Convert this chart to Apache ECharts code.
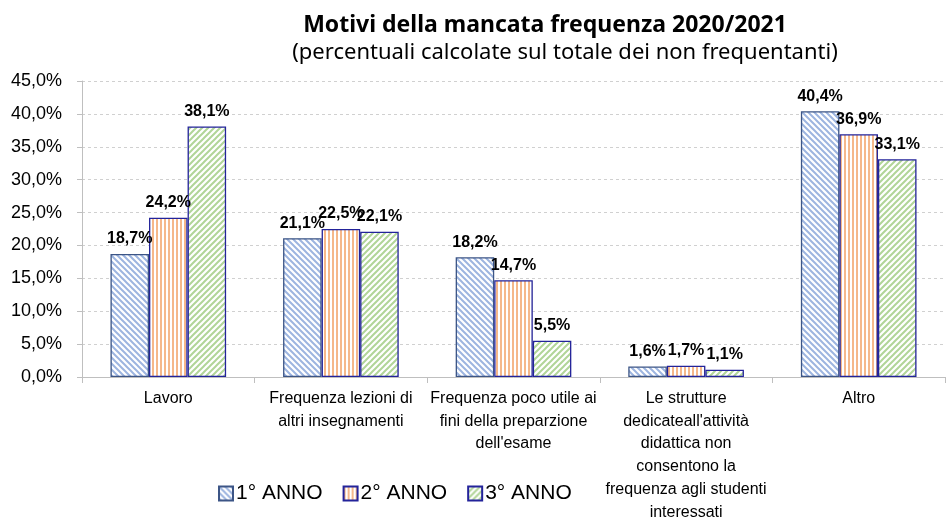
<!DOCTYPE html>
<html>
<head>
<meta charset="utf-8">
<script src="https://cdn.jsdelivr.net/npm/echarts@6/dist/echarts.min.js"></script>
<style>
  html, body { margin: 0; padding: 0; background: #fff; }
  #chart { width: 946px; height: 518px; }
</style>
</head>
<body>
<div id="chart"></div>
<script>
// dati
const categorie = [
    'Lavoro',
    'Frequenza lezioni di\naltri insegnamenti',
    'Frequenza poco utile ai\nfini della preparzione\ndell\'esame',
    'Le strutture\ndedicateall\'attività\ndidattica non\nconsentono la\nfrequenza agli studenti\ninteressati',
    'Altro'
];
const anno1 = [18.7, 21.1, 18.2, 1.6, 40.4];
const anno2 = [24.2, 22.5, 14.7, 1.7, 36.9];
const anno3 = [38.1, 22.1, 5.5, 1.1, 33.1];
const nomiSerie = ['1° ANNO', '2° ANNO', '3° ANNO'];

const FONT = 'Liberation Sans';

// pattern a righe (tipo Excel)
function pattern(tipo, colore) {
    const c = document.createElement('canvas');
    const s = tipo === 'v' ? 4 : 6;
    c.width = s; c.height = s;
    const ctx = c.getContext('2d');
    ctx.fillStyle = '#fff';
    ctx.fillRect(0, 0, s, s);
    ctx.strokeStyle = colore;
    ctx.fillStyle = colore;
    if (tipo === 'v') {
        ctx.fillRect(0, 0, 2, s);
    } else {
        ctx.lineWidth = 2;
        ctx.beginPath();
        if (tipo === 'bs') { // "\"
            ctx.moveTo(-1, -1); ctx.lineTo(s + 1, s + 1);
            ctx.moveTo(-1, s - 1); ctx.lineTo(1, s + 1);
            ctx.moveTo(s - 1, -1); ctx.lineTo(s + 1, 1);
        } else { // "/"
            ctx.moveTo(-1, s + 1); ctx.lineTo(s + 1, -1);
            ctx.moveTo(-1, 1); ctx.lineTo(1, -1);
            ctx.moveTo(s - 1, s + 1); ctx.lineTo(s + 1, s - 1);
        }
        ctx.stroke();
    }
    return { image: c, repeat: 'repeat' };
}

const stili = [
    { color: pattern('bs', '#9DB5E0'), borderColor: '#3C5586' },
    { color: pattern('v', '#F5B88A'), borderColor: '#23239A' },
    { color: pattern('fs', '#B1D598'), borderColor: '#23239A' }
];

const fmt = v => v.toFixed(1).replace('.', ',') + '%';

const chart = echarts.init(document.getElementById('chart'));
chart.setOption({
    animation: false,
    title: [
        {
            text: 'Motivi della mancata frequenza 2020/2021',
            left: 540, top: 9, textAlign: 'center',
            textStyle: { fontFamily: 'Noto Sans', fontSize: 23, fontWeight: 'bold', color: '#000' }
        },
        {
            text: '(percentuali calcolate sul totale dei non frequentanti)',
            left: 560, top: 37, textAlign: 'center',
            textStyle: { fontFamily: 'Noto Sans', fontSize: 22, fontWeight: 'normal', color: '#000' }
        }
    ],
    legend: {
        data: nomiSerie,
        left: 218, top: 483, padding: 0,
        icon: 'rect',
        itemWidth: 14, itemHeight: 14, itemGap: 20,
        textStyle: { fontFamily: FONT, fontSize: 21, color: '#000', padding: [0, 0, 0, -2] }
    },
    grid: { left: 82, right: 1, top: 81, bottom: 141, containLabel: false, outerBoundsMode: 'none' },
    xAxis: {
        type: 'category',
        data: categorie,
        axisLine: { lineStyle: { color: '#BFBFBF' } },
        axisTick: { show: true, length: 6, lineStyle: { color: '#BFBFBF' } },
        axisLabel: {
            interval: 0, margin: 10, lineHeight: 22.8,
            fontFamily: FONT, fontSize: 16, color: '#000'
        }
    },
    yAxis: {
        type: 'value',
        min: 0, max: 45, interval: 5,
        axisLine: { show: true, lineStyle: { color: '#BFBFBF' } },
        axisTick: { show: true, length: 5, lineStyle: { color: '#BFBFBF' } },
        splitLine: { lineStyle: { color: '#D0D0D0', type: [3, 3] } },
        axisLabel: {
            margin: 20, fontFamily: FONT, fontSize: 18, color: '#000',
            formatter: fmt
        }
    },
    series: [anno1, anno2, anno3].map((d, i) => ({
        name: nomiSerie[i],
        type: 'bar',
        data: d,
        barGap: 0,
        barCategoryGap: '33%',
        itemStyle: Object.assign({ borderWidth: 1.3 }, stili[i]),
        label: {
            show: true, position: 'top', distance: 7,
            fontFamily: FONT, fontSize: 16, fontWeight: 'bold', color: '#000',
            formatter: p => fmt(p.value)
        }
    }))
});
</script>
</body>
</html>
